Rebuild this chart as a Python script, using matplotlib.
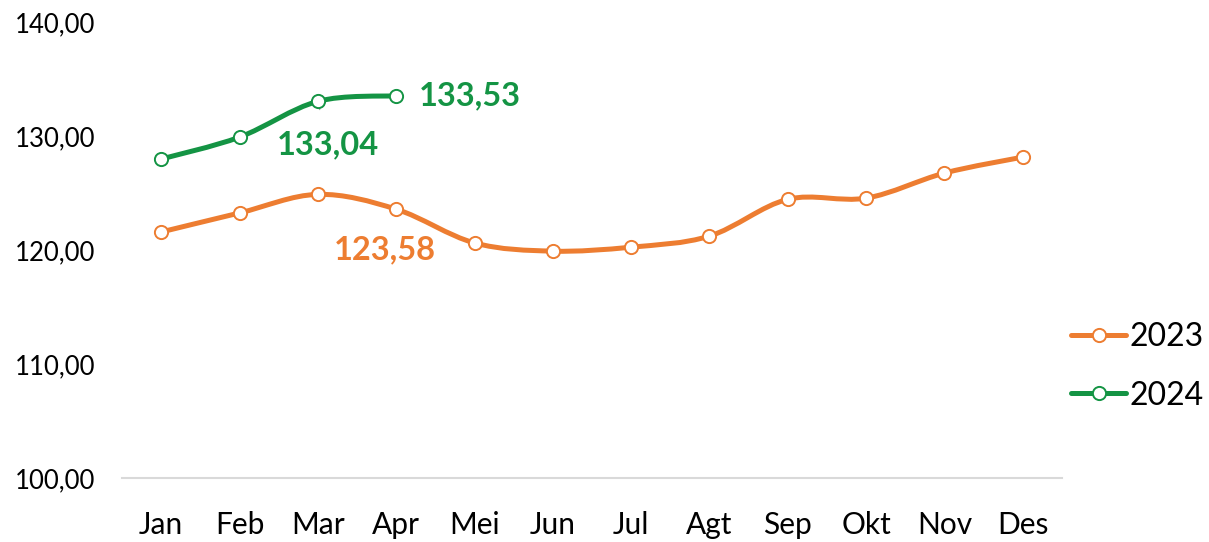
import matplotlib.pyplot as plt
import numpy as np
from matplotlib.path import Path
from matplotlib.patches import PathPatch

plt.rcParams['font.family'] = ['Lato', 'DejaVu Sans']

# data
months = ['Jan', 'Feb', 'Mar', 'Apr', 'Mei', 'Jun', 'Jul', 'Agt', 'Sep', 'Okt', 'Nov', 'Des']
vals_2023 = [121.58, 123.25, 124.88, 123.58, 120.62, 119.90, 120.25, 121.22, 124.45, 124.55, 126.75, 128.15]
vals_2024 = [127.98, 129.90, 133.04, 133.53]

orange = '#ED7D31'
green = '#149444'


def smooth_path(xs, ys):
    # Catmull-Rom style bezier segments, like Excel's "smoothed line"
    pts = np.column_stack([xs, ys]).astype(float)
    verts = [pts[0]]
    codes = [Path.MOVETO]
    n = len(pts)
    for i in range(n - 1):
        p0 = pts[i - 1] if i > 0 else pts[i]
        p1 = pts[i]
        p2 = pts[i + 1]
        p3 = pts[i + 2] if i + 2 < n else pts[i + 1]
        c1 = p1 + (p2 - p0) / 6
        c2 = p2 - (p3 - p1) / 6
        verts += [c1, c2, p2]
        codes += [Path.CURVE4] * 3
    return Path(verts, codes)


fig = plt.figure(figsize=(12.09, 5.42), dpi=100)
ax = fig.add_axes([122 / 1209, 1 - 478 / 542, 940 / 1209, 456 / 542])

for vals, col, name in [(vals_2023, orange, '2023'), (vals_2024, green, '2024')]:
    x = np.arange(len(vals))
    ax.add_patch(PathPatch(smooth_path(x, vals), facecolor='none', edgecolor=col,
                           lw=3.6, capstyle='round', zorder=3))
    ax.plot(x, vals, ls='none', marker='o', ms=9.5, mfc='white', mec=col, mew=1.4, zorder=4)
    # legend proxy
    ax.plot([], [], color=col, lw=3.6, marker='o', ms=9.5, mfc='white', mec=col,
            mew=1.4, label=name, solid_capstyle='round')

ax.set_xlim(-0.5, 11.5)
ax.set_ylim(100, 140)
ax.set_xticks(range(len(months)))
ax.set_xticklabels(months, fontsize=21.5)
ax.set_yticks([100, 110, 120, 130, 140])
ax.set_yticklabels([f'{v:.2f}'.replace('.', ',') for v in [100, 110, 120, 130, 140]], fontsize=18.5)
ax.tick_params(length=0)
ax.tick_params(axis='y', pad=19.5)
ax.tick_params(axis='x', pad=24)
for s in ['top', 'right', 'left']:
    ax.spines[s].set_visible(False)
ax.spines['bottom'].set_color('#D9D9D9')
ax.spines['bottom'].set_linewidth(1.5)

# data labels
fmt = lambda v: f'{v:.2f}'.replace('.', ',')
ax.annotate(fmt(vals_2024[3]), (3, vals_2024[3]), xytext=(16, 0), textcoords='offset points',
            color=green, fontsize=23.5, fontweight='bold', ha='left', va='center')
ax.annotate(fmt(vals_2024[2]), (2, vals_2024[2]), xytext=(7, -31), textcoords='offset points',
            color=green, fontsize=23.5, fontweight='bold', ha='center', va='center',
            arrowprops=dict(arrowstyle='-', color='#A6A6A6', lw=1, shrinkA=13, shrinkB=5))
ax.annotate(fmt(vals_2023[3]), (3, vals_2023[3]), xytext=(-8, -29), textcoords='offset points',
            color=orange, fontsize=23.5, fontweight='bold', ha='center', va='center')

leg = ax.legend(loc='center left', bbox_to_anchor=(1.01, 0.245), frameon=False, fontsize=23,
                handlelength=1.7, handletextpad=0.12, labelspacing=0.9,
                borderpad=0, borderaxespad=0)

fig.savefig('out.png', dpi=100)
